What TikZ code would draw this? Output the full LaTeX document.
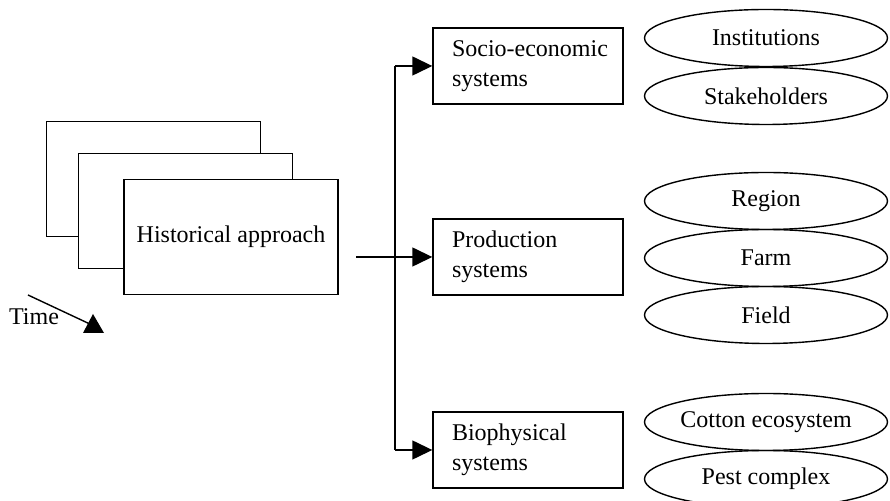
\documentclass[tikz,border=0pt]{standalone}
\usepackage{fontspec}
\setmainfont{Liberation Serif}
\usetikzlibrary{arrows.meta,shapes.geometric}
\begin{document}
\begin{tikzpicture}[x=0.5pt,y=-0.5pt,
  line width=0.7pt,
  every node/.style={font=\fontsize{12}{15}\selectfont},
  sysbox/.style={draw, align=left, text width=76pt, inner xsep=9.5pt, inner ysep=0pt, minimum height=38pt},
  histbox/.style={draw, fill=white, minimum width=107pt, minimum height=57.5pt, inner sep=0pt},
  oval/.style={draw, ellipse, minimum width=121.5pt, minimum height=28.5pt, inner sep=0pt},
  tip/.style={-{Triangle[length=10pt,width=9.5pt]}}
]
\useasboundingbox (0,0) rectangle (890,501);

% stacked history boxes
\node[histbox] (hA) at (153.5,179) {};
\node[histbox] (hB) at (185.5,211) {};
\node[histbox] (hC) at (231,237) {\raisebox{2.5pt}{Historical approach}};

% time arrow
\node (time) at (34,317) {Time};
\coordinate (t0) at (28,295);
\coordinate (t1) at (92,325);
\draw (t0) -- (t1);
\fill (83,333) -- (104,333) -- (93,314) -- cycle;

% system boxes
\node[sysbox] (socio) at (528,66) {\mbox{Socio-economic}\\systems};
\node[sysbox] (prod) at (528,257) {Production\\systems};
\node[sysbox] (bio) at (528,450) {Biophysical\\systems};

% connectors
\coordinate (hstart) at (356,257);
\coordinate (topc) at (395,66);
\coordinate (botc) at (395,450);
\draw (topc) -- (botc);
\draw[tip] (topc) -- (socio.west);
\draw[tip] (botc) -- (bio.west);
\draw[tip] (hstart) -- (prod.west);

% ellipses
\node[oval] (inst) at (766,38) {Institutions};
\node[oval] (stake) at (766,96) {Stakeholders};
\node[oval] (region) at (766,201) {Region};
\node[oval] (farm) at (766,258) {Farm};
\node[oval] (field) at (766,315) {Field};
\node[oval] (cotton) at (766,422) {Cotton ecosystem};
\node[oval] (pest) at (766,479) {Pest complex};
\end{tikzpicture}
\end{document}
